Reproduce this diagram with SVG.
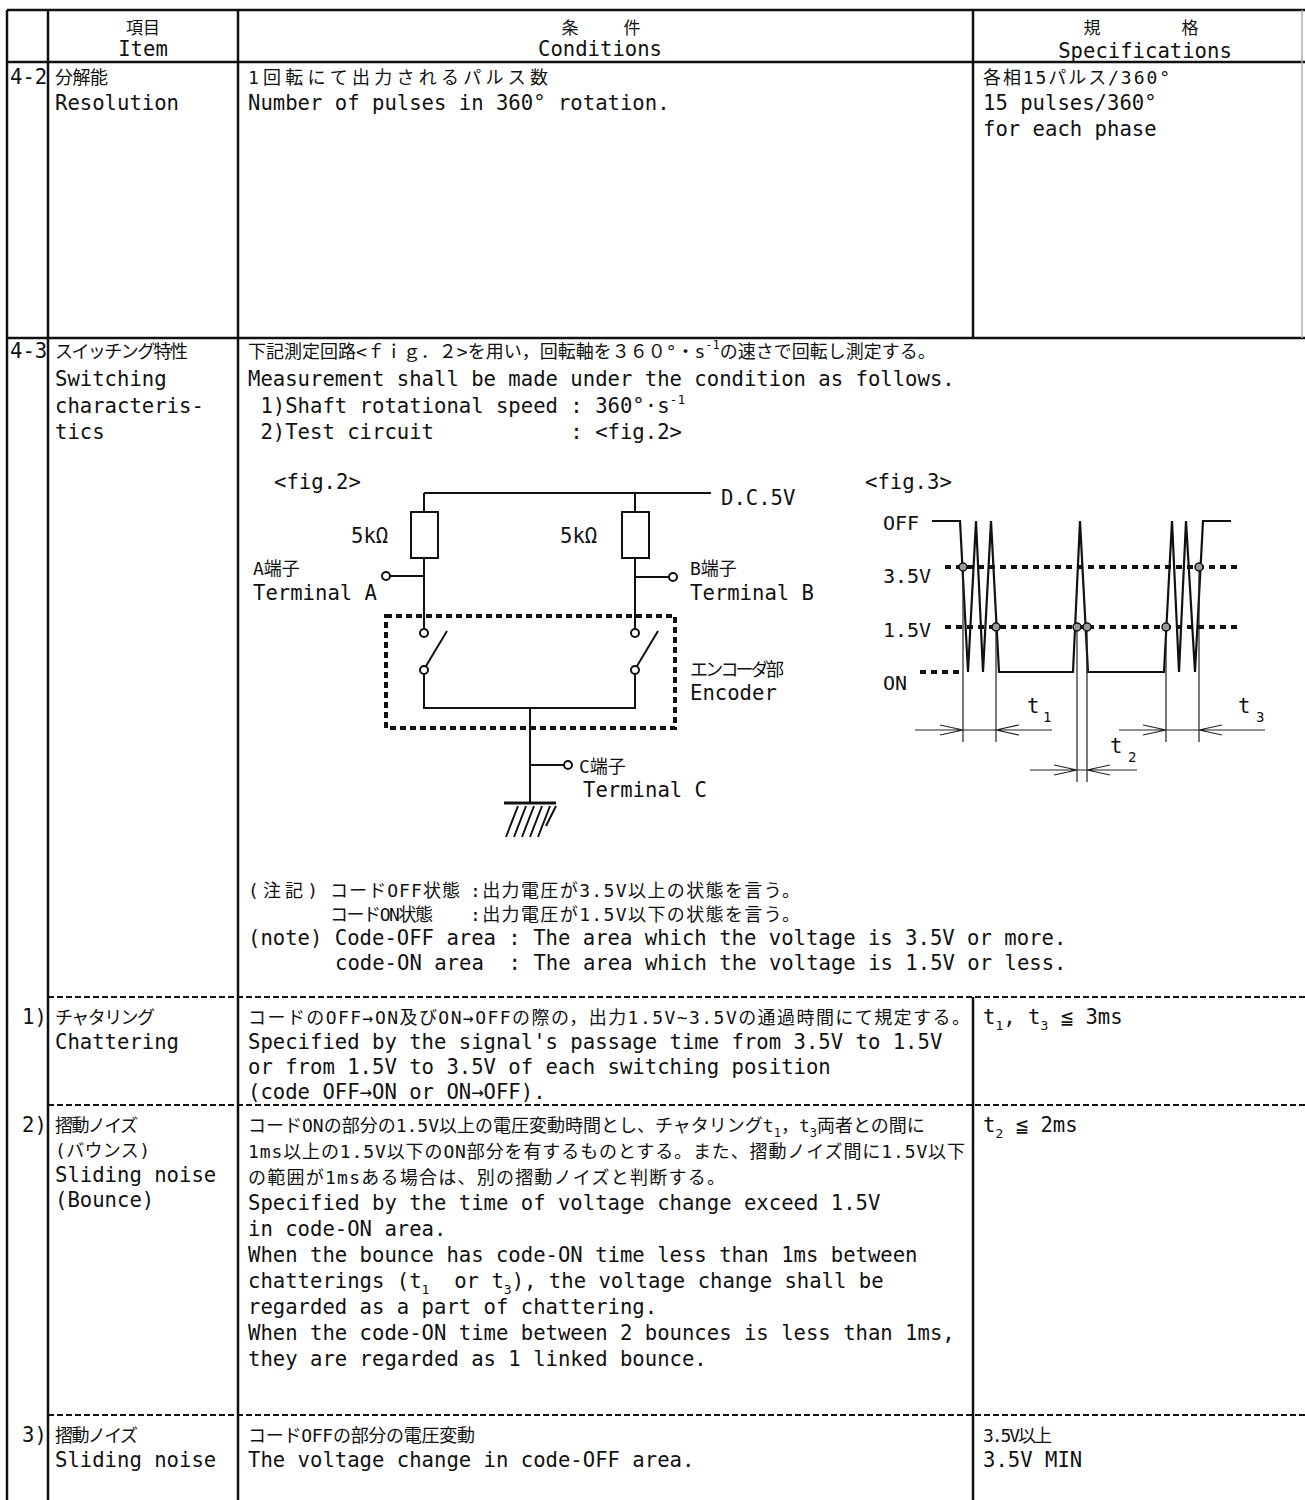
<svg xmlns="http://www.w3.org/2000/svg" width="1305" height="1500" viewBox="0 0 1305 1500">
<style>
text{font-family:"DejaVu Sans Mono","Noto Sans CJK JP",monospace;fill:#111;white-space:pre;}
.l{font-size:20.6px;}
.j{font-size:18px;}
.h{font-size:17px;}
.f{font-size:20px;}
.tb{stroke:#111;stroke-width:2.5;fill:none;}
.dl{stroke:#111;stroke-width:2;stroke-dasharray:6 3;fill:none;}
.w{stroke:#111;stroke-width:2;fill:none;}
.thin{stroke:#222;stroke-width:1.2;fill:none;}
.enc{stroke:#111;stroke-width:4;stroke-dasharray:6 4;fill:none;}
.lvl{stroke:#111;stroke-width:4;stroke-dasharray:6 5;fill:none;}
.term{fill:#fff;stroke:#111;stroke-width:2;}
.pt{fill:#999;stroke:#111;stroke-width:1.5;}
</style>
<rect width="1305" height="1500" fill="#fff"/>

<g id="table">
<path class="tb" d="M7 10H1305M7 62H1305M7 338H1305M7 10V1500M48 10V1500M238 10V1500M973 10V338M973 997V1500"/>
<path d="M1302 10V338" stroke="#aaa" stroke-width="1.5" fill="none"/>
<path class="dl" d="M48 997H1305M48 1105H1305M48 1415H1305"/>
</g>

<g id="header">
<text class="h" x="143" y="34" text-anchor="middle">項目</text>
<text class="l" x="143" y="56" text-anchor="middle">Item</text>
<text class="h" x="570" y="34" text-anchor="middle">条</text>
<text class="h" x="632" y="34" text-anchor="middle">件</text>
<text class="l" x="600" y="56" text-anchor="middle">Conditions</text>
<text class="h" x="1092" y="34" text-anchor="middle">規</text>
<text class="h" x="1190" y="34" text-anchor="middle">格</text>
<text class="l" x="1145" y="58" text-anchor="middle">Specifications</text>
</g>

<g id="row-4-2">
<text class="l" x="10" y="84">4-2</text>
<text class="j" x="55" y="84" textLength="53" lengthAdjust="spacing">分解能</text>
<text class="l" x="55" y="110">Resolution</text>
<text class="j" x="248" y="84" textLength="300" lengthAdjust="spacing">1回転にて出力されるパルス数</text>
<text class="l" x="248" y="110">Number of pulses in 360° rotation.</text>
<text class="j" x="983" y="84" textLength="187" lengthAdjust="spacing">各相15パルス/360°</text>
<text class="l" x="983" y="110">15 pulses/360°</text>
<text class="l" x="983" y="136">for each phase</text>
</g>

<g id="row-4-3">
<text class="l" x="10" y="358">4-3</text>
<text class="j" x="55" y="358" textLength="133" lengthAdjust="spacing">スイッチング特性</text>
<text class="l" x="55" y="386">Switching</text>
<text class="l" x="55" y="413">characteris-</text>
<text class="l" x="55" y="439">tics</text>
<text class="j" x="248" y="358">下記測定回路&lt;ｆｉｇ．２&gt;を用い，回転軸を３６０°・s<tspan font-size="12" dy="-9">-1</tspan><tspan dy="9">の速さで回転し測定する。</tspan></text>
<text class="l" x="248" y="386">Measurement shall be made under the condition as follows.</text>
<text class="l" x="248" y="413" xml:space="preserve"> 1)Shaft rotational speed : 360°·s<tspan font-size="13" dy="-9">-1</tspan></text>
<text class="l" x="248" y="439" xml:space="preserve"> 2)Test circuit           : &lt;fig.2&gt;</text>
</g>

<g id="fig2">
<text class="l" x="274" y="489">&lt;fig.2&gt;</text>
<path class="w" d="M424 493H711M424 493V512M635 493V512M424 558V629M635 558V629M390 576H424M635 577H669M426 666L447 631M637 666L658 631M424 674V708H635V674M530 708V803M530 765H564"/>
<rect class="w" x="411" y="512" width="27" height="46" stroke-width="2.5"/>
<rect class="w" x="622" y="512" width="27" height="46" stroke-width="2.5"/>
<rect class="enc" x="386" y="616" width="289" height="112"/>
<circle class="term" cx="386" cy="576" r="4"/>
<circle class="term" cx="673" cy="577" r="4"/>
<circle class="term" cx="424" cy="633" r="4"/>
<circle class="term" cx="424" cy="670" r="4"/>
<circle class="term" cx="635" cy="633" r="4"/>
<circle class="term" cx="635" cy="670" r="4"/>
<circle class="term" cx="568" cy="765" r="4"/>
<path d="M504 803H556" stroke="#111" stroke-width="3" fill="none"/>
<path class="w" d="M518 806L506 837M526 806L514 837M534 806L522 837M542 806L530 837M550 806L538 837M556 806L546 826"/>
<text class="l" x="721" y="505">D.C.5V</text>
<text class="l" x="351" y="543">5kΩ</text>
<text class="l" x="560" y="543">5kΩ</text>
<text class="j" x="253" y="575">A端子</text>
<text class="l" x="253" y="600">Terminal A</text>
<text class="j" x="690" y="575">B端子</text>
<text class="l" x="690" y="600">Terminal B</text>
<text class="j" x="690" y="676" textLength="94" lengthAdjust="spacing">エンコーダ部</text>
<text class="l" x="690" y="700">Encoder</text>
<text class="j" x="579" y="773">C端子</text>
<text class="l" x="583" y="797">Terminal C</text>
</g>

<g id="fig3">
<text class="l" x="865" y="489">&lt;fig.3&gt;</text>
<text class="f" x="883" y="530">OFF</text>
<text class="f" x="883" y="583">3.5V</text>
<text class="f" x="883" y="637">1.5V</text>
<text class="f" x="883" y="690">ON</text>
<path class="lvl" d="M945 567H1237M945 627H1237M920 672H960"/>
<polyline fill="none" stroke="#111" stroke-width="2.2" points="932,521 960,521 968,672 976,521 983,672 991,521 999,672 1073,672 1080,521 1088,672 1164,672 1172,521 1179,672 1186,521 1195,672 1203,521 1231,521"/>
<path class="thin" d="M963 566V742M996 626V742M1077 626V782M1087 626V782M1166 626V742M1199 566V742"/>
<path class="thin" d="M915 730H1052M940 725L963 730L940 735M1019 725L996 730L1019 735M1030 770H1137M1054 765L1077 770L1054 775M1110 765L1087 770L1110 775M1119 730H1265M1143 725L1166 730L1143 735M1222 725L1199 730L1222 735"/>
<circle class="pt" cx="963" cy="567" r="4"/>
<circle class="pt" cx="996" cy="627" r="4"/>
<circle class="pt" cx="1077" cy="627" r="4"/>
<circle class="pt" cx="1087" cy="627" r="4"/>
<circle class="pt" cx="1166" cy="627" r="4"/>
<circle class="pt" cx="1199" cy="567" r="4"/>
<text class="l" x="1027" y="713">t</text><text font-size="14" x="1043" y="722">1</text>
<text class="l" x="1110" y="753">t</text><text font-size="14" x="1128" y="762">2</text>
<text class="l" x="1238" y="713">t</text><text font-size="14" x="1256" y="722">3</text>
</g>

<g id="notes">
<text class="j" x="248" y="897" textLength="70" lengthAdjust="spacing">(注記)</text>
<text class="j" x="330" y="897" textLength="130" lengthAdjust="spacing">コードOFF状態</text>
<text class="j" x="470" y="897" textLength="330" lengthAdjust="spacing">:出力電圧が3.5V以上の状態を言う。</text>
<text class="j" x="330" y="921" textLength="103" lengthAdjust="spacing">コードON状態</text>
<text class="j" x="470" y="921" textLength="330" lengthAdjust="spacing">:出力電圧が1.5V以下の状態を言う。</text>
<text class="l" x="248" y="945">(note) Code-OFF area : The area which the voltage is 3.5V or more.</text>
<text class="l" x="335" y="970" xml:space="preserve">code-ON area  : The area which the voltage is 1.5V or less.</text>
</g>

<g id="row-1">
<text class="l" x="22" y="1024">1)</text>
<text class="j" x="55" y="1024" textLength="100" lengthAdjust="spacing">チャタリング</text>
<text class="l" x="55" y="1049">Chattering</text>
<text class="j" x="248" y="1024" textLength="722" lengthAdjust="spacing">コードのOFF→ON及びON→OFFの際の，出力1.5V~3.5Vの通過時間にて規定する。</text>
<text class="l" x="248" y="1049">Specified by the signal's passage time from 3.5V to 1.5V</text>
<text class="l" x="248" y="1074">or from 1.5V to 3.5V of each switching position</text>
<text class="l" x="248" y="1099">(code OFF→ON or ON→OFF).</text>
<text class="l" x="983" y="1024">t<tspan font-size="13" dy="6">1</tspan><tspan dy="-6">, t</tspan><tspan font-size="13" dy="6">3</tspan><tspan dy="-6"> ≦ 3ms</tspan></text>
</g>

<g id="row-2">
<text class="l" x="22" y="1132">2)</text>
<text class="j" x="55" y="1132" textLength="83" lengthAdjust="spacing">摺動ノイズ</text>
<text class="j" x="55" y="1157" textLength="95" lengthAdjust="spacing">(バウンス)</text>
<text class="l" x="55" y="1182">Sliding noise</text>
<text class="l" x="55" y="1207">(Bounce)</text>
<text class="j" x="248" y="1132">コードONの部分の1.5V以上の電圧変動時間とし、チャタリングt<tspan font-size="12" dy="5">1</tspan><tspan dy="-5">，t</tspan><tspan font-size="12" dy="5">3</tspan><tspan dy="-5">両者との間に</tspan></text>
<text class="j" x="248" y="1158" textLength="717" lengthAdjust="spacing">1ms以上の1.5V以下のON部分を有するものとする。また、摺動ノイズ間に1.5V以下</text>
<text class="j" x="248" y="1184" textLength="477" lengthAdjust="spacing">の範囲が1msある場合は、別の摺動ノイズと判断する。</text>
<text class="l" x="248" y="1210">Specified by the time of voltage change exceed 1.5V</text>
<text class="l" x="248" y="1236">in code-ON area.</text>
<text class="l" x="248" y="1262">When the bounce has code-ON time less than 1ms between</text>
<text class="l" x="248" y="1288" xml:space="preserve">chatterings (t<tspan font-size="13" dy="6">1</tspan><tspan dy="-6">  or t</tspan><tspan font-size="13" dy="6">3</tspan><tspan dy="-6">), the voltage change shall be</tspan></text>
<text class="l" x="248" y="1314">regarded as a part of chattering.</text>
<text class="l" x="248" y="1340">When the code-ON time between 2 bounces is less than 1ms,</text>
<text class="l" x="248" y="1366">they are regarded as 1 linked bounce.</text>
<text class="l" x="983" y="1132">t<tspan font-size="13" dy="6">2</tspan><tspan dy="-6"> ≦ 2ms</tspan></text>
</g>

<g id="row-3">
<text class="l" x="22" y="1442">3)</text>
<text class="j" x="55" y="1442" textLength="83" lengthAdjust="spacing">摺動ノイズ</text>
<text class="l" x="55" y="1467">Sliding noise</text>
<text class="j" x="248" y="1442" textLength="227" lengthAdjust="spacing">コードOFFの部分の電圧変動</text>
<text class="l" x="248" y="1467">The voltage change in code-OFF area.</text>
<text class="j" x="983" y="1442" textLength="69" lengthAdjust="spacing">3.5V以上</text>
<text class="l" x="983" y="1467">3.5V MIN</text>
</g>
</svg>
